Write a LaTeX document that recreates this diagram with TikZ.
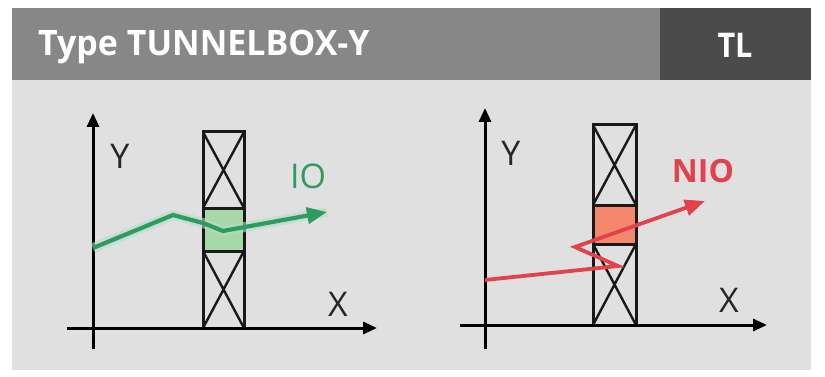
\documentclass[tikz,border=0pt]{standalone}
\usepackage{fontspec}
\setmainfont{Open Sans}
\usetikzlibrary{arrows.meta}
\definecolor{hdr}{HTML}{878787}
\definecolor{hdrdark}{HTML}{4B4B4B}
\definecolor{body}{HTML}{E0E0E0}
\definecolor{iogreen}{HTML}{2E9C5E}
\definecolor{iofill}{HTML}{A6D8A8}
\definecolor{niored}{HTML}{E2424C}
\definecolor{niofill}{HTML}{F4876C}
\tikzset{
  axis/.style={line width=3pt, -{Triangle[length=14pt,width=12pt]}},
  colbox/.style={line width=3pt, draw=black!90},
  cross/.style={line width=2.4pt, draw=black!90},
  flow/.style={line width=4.2pt, line join=miter, -{Triangle[length=20pt,width=16pt]}},
  axlabel/.style={font=\fontsize{34}{34}\selectfont, inner sep=0pt, text=black!85},
  result/.style={font=\fontsize{34}{34}\selectfont, inner sep=0pt},
}
\begin{document}
\begin{tikzpicture}[x=1pt,y=-1pt]
\useasboundingbox (0,0) rectangle (825,377);
% panels
\fill[body] (12,80) rectangle (811,370);
\fill[hdr] (12,8) rectangle (811,80);
\fill[hdrdark] (660,8) rectangle (811,80);
\node[anchor=base west, inner sep=0pt, text=white, font=\fontsize{35}{35}\selectfont\bfseries] (title) at (38,56) {\scalebox{0.97}[1]{Type TUNNELBOX-Y}};
\node[anchor=base, inner sep=0pt, text=white, font=\fontsize{34}{34}\selectfont\bfseries] (tl) at (735,58) {\scalebox{0.9}[1]{TL}};

% ---------- left chart ----------
\fill[iofill] (203,208) rectangle (244,251);
\draw[colbox] (203,132) rectangle (244,328);
\draw[colbox] (203,208) -- (244,208) (203,251) -- (244,251);
\draw[cross] (203,132) -- (244,208) (244,132) -- (203,208);
\draw[cross] (203,251) -- (244,328) (244,251) -- (203,328);
\coordinate (ly0) at (93,349);
\coordinate (ly1) at (93,113);
\coordinate (lx0) at (67,328);
\coordinate (lx1) at (377,328);
\draw[axis] (ly0) -- (ly1);
\draw[axis] (lx0) -- (lx1);
\node[axlabel] (lY) at (120,156) {Y};
\node[axlabel] (lX) at (338,304) {X};
\coordinate (g0) at (93,248);
\coordinate (g1) at (173,215);
\coordinate (g2) at (203,223);
\coordinate (g3) at (223,231);
\coordinate (g4) at (327,212);
\draw[draw=iogreen!35, line width=10pt, line join=round, opacity=0.6] (g0) -- (g1) -- (g2) -- (g3) -- (g4);
\draw[flow, draw=iogreen] (g0) -- (g1) -- (g2) -- (g3) -- (g4);
\node[result, text=iogreen] (io) at (308,176) {IO};

% ---------- right chart ----------
\fill[niofill] (593,205) rectangle (636,244);
\draw[colbox] (593,125) rectangle (636,325);
\draw[colbox] (593,205) -- (636,205) (593,244) -- (636,244);
\draw[cross] (593,125) -- (636,205) (636,125) -- (593,205);
\draw[cross] (593,244) -- (636,325) (636,244) -- (593,325);
\coordinate (ry0) at (485,349);
\coordinate (ry1) at (485,108);
\coordinate (rx0) at (460,325);
\coordinate (rx1) at (767,325);
\draw[axis] (ry0) -- (ry1);
\draw[axis] (rx0) -- (rx1);
\node[axlabel] (rY) at (511,153) {Y};
\node[axlabel] (rX) at (729,300) {X};
\coordinate (r0) at (485,280);
\coordinate (r1) at (618,266);
\coordinate (r2) at (575,247);
\coordinate (r3) at (705,201);
\draw[flow, draw=niored, line width=3.8pt] (r0) -- (r1) -- (r2) -- (r3);
\node[result, text=niored, font=\fontsize{32}{32}\selectfont\bfseries] (nio) at (703,171) {NIO};
\end{tikzpicture}
\end{document}
